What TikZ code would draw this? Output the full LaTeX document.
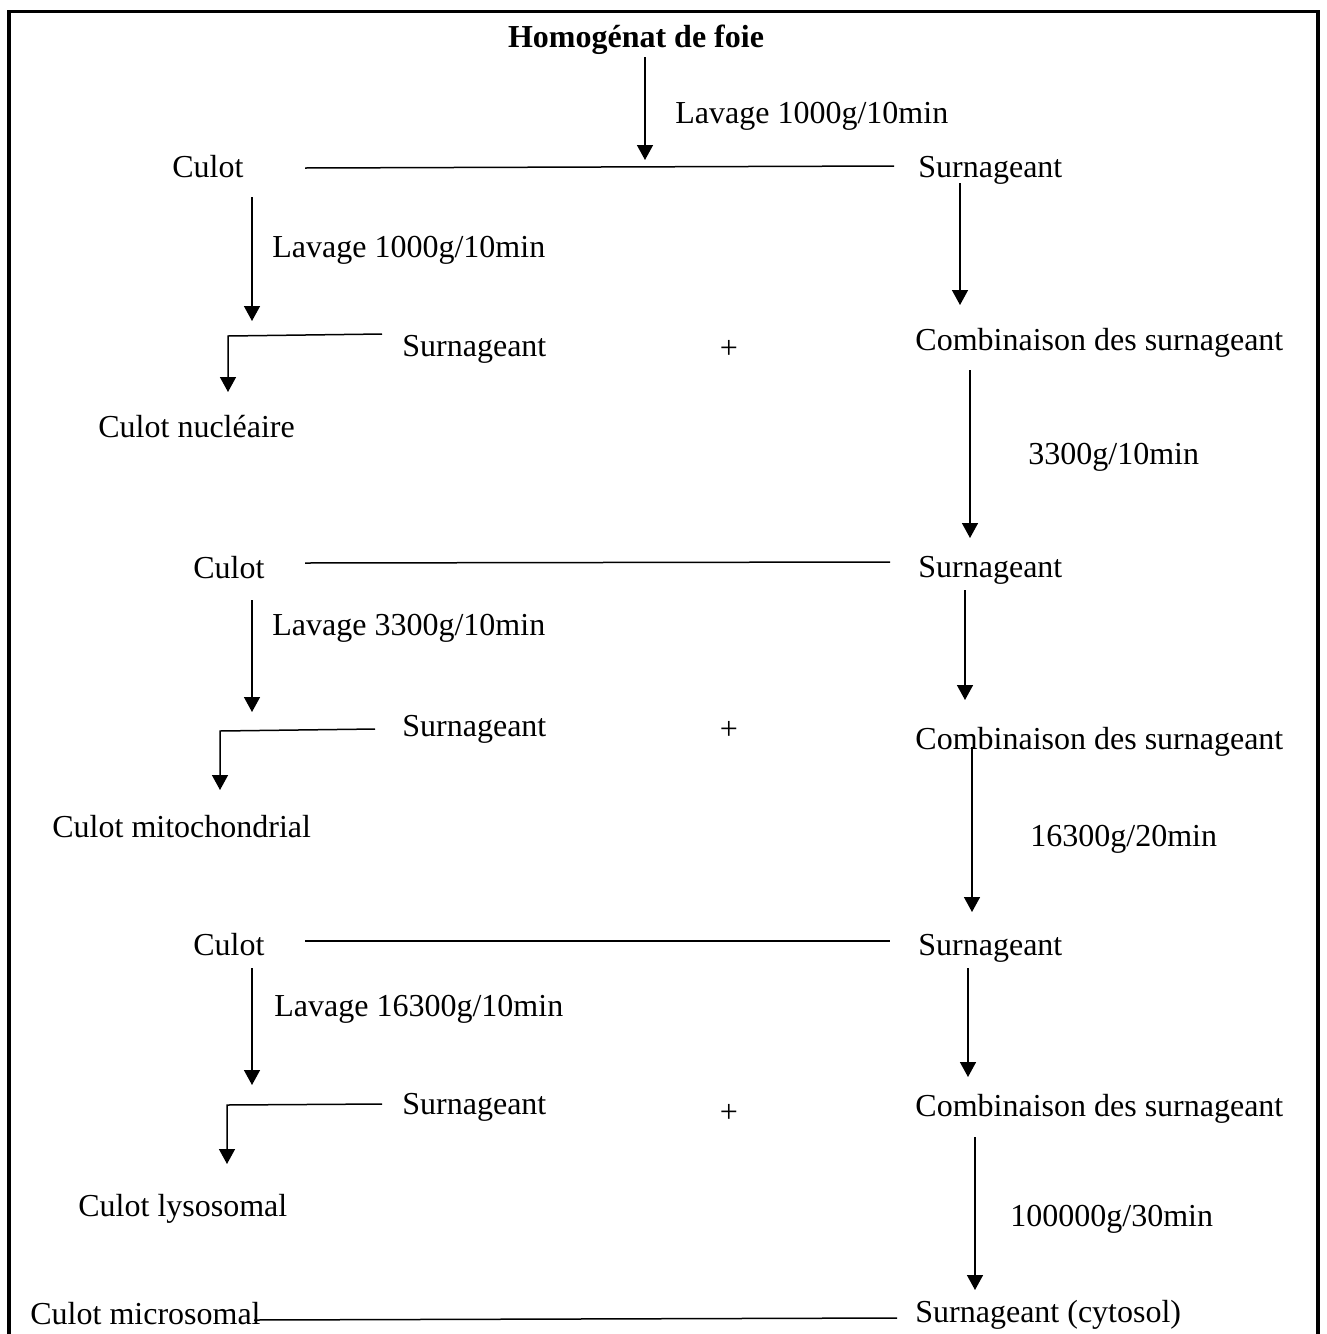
\documentclass[tikz,border=0pt]{standalone}
\usepackage{fontspec}
\setmainfont{Liberation Serif}
\usetikzlibrary{arrows.meta}
\begin{document}
\begin{tikzpicture}[x=0.5pt,y=-0.5pt,
  lbl/.style={anchor=base west,inner sep=0pt,font=\fontsize{16}{19}\selectfont},
  ttl/.style={anchor=base,inner sep=0pt,font=\fontsize{16}{19}\selectfont\bfseries},
  arr/.style={line width=0.75pt,-{Triangle[length=7.5pt,width=8pt]}},
  ln/.style={line width=0.75pt},
  frame/.style={line width=1.75pt}]
\useasboundingbox (0,0) rectangle (1327,1334);
\draw[frame] (9,1340) -- (9,11.5) -- (1318,11.5) -- (1318,1340);
% texts
\node[ttl] (hom) at (636,47) {Homogénat de foie};
\node[lbl] (lav1) at (675,123) {Lavage 1000g/10min};
\node[lbl] (cul1) at (172,177) {Culot};
\node[lbl] (sur1) at (918,177) {Surnageant};
\node[lbl] (lav2) at (272,257) {Lavage 1000g/10min};
\node[lbl] (sl1) at (402,356) {Surnageant};
\node[lbl,anchor=base] (p1) at (729,358) {+};
\node[lbl] (com1) at (915,350) {Combinaison des surnageant};
\node[lbl] (nuc) at (98,437) {Culot nucléaire};
\node[lbl] (g1) at (1028,464) {3300g/10min};
\node[lbl] (cul2) at (193,578) {Culot};
\node[lbl] (sur2) at (918,577) {Surnageant};
\node[lbl] (lav3) at (272,635) {Lavage 3300g/10min};
\node[lbl] (sl2) at (402,736) {Surnageant};
\node[lbl,anchor=base] (p2) at (729,739) {+};
\node[lbl] (com2) at (915,749) {Combinaison des surnageant};
\node[lbl] (mit) at (52,837) {Culot mitochondrial};
\node[lbl] (g2) at (1030,846) {16300g/20min};
\node[lbl] (cul3) at (193,955) {Culot};
\node[lbl] (sur3) at (918,955) {Surnageant};
\node[lbl] (lav4) at (274,1016) {Lavage 16300g/10min};
\node[lbl] (sl3) at (402,1114) {Surnageant};
\node[lbl,anchor=base] (p3) at (729,1122) {+};
\node[lbl] (com3) at (915,1116) {Combinaison des surnageant};
\node[lbl] (lys) at (78,1216) {Culot lysosomal};
\node[lbl] (g3) at (1010,1226) {100000g/30min};
\node[lbl] (mic) at (30,1324) {Culot microsomal};
\node[lbl] (cyt) at (915,1322) {Surnageant (cytosol)};
% connector end points
\coordinate (a0s) at (645,57);  \coordinate (a0e) at (645,160);
\coordinate (h1s) at (305,168); \coordinate (h1e) at (894,166);
\coordinate (a1s) at (960,183); \coordinate (a1e) at (960,305);
\coordinate (a2s) at (252,197); \coordinate (a2e) at (252,321);
\coordinate (l1s) at (382,334); \coordinate (l1m) at (228,336); \coordinate (l1e) at (228,392);
\coordinate (a3s) at (970,370); \coordinate (a3e) at (970,538);
\coordinate (h2s) at (305,563); \coordinate (h2e) at (890,562);
\coordinate (a4s) at (252,600); \coordinate (a4e) at (252,712);
\coordinate (a5s) at (965,590); \coordinate (a5e) at (965,700);
\coordinate (l2s) at (375,729); \coordinate (l2m) at (220,731); \coordinate (l2e) at (220,790);
\coordinate (a6s) at (972,747); \coordinate (a6e) at (972,912);
\coordinate (h3s) at (305,941); \coordinate (h3e) at (890,941);
\coordinate (a7s) at (252,968); \coordinate (a7e) at (252,1085);
\coordinate (a8s) at (968,968); \coordinate (a8e) at (968,1077);
\coordinate (l3s) at (382,1104); \coordinate (l3m) at (227,1105); \coordinate (l3e) at (227,1164);
\coordinate (a9s) at (975,1137); \coordinate (a9e) at (975,1290);
\coordinate (h4s) at (254,1320); \coordinate (h4e) at (897,1318);
% connectors
\draw[arr] (a0s) -- (a0e);
\draw[ln] (h1s) -- (h1e);
\draw[arr] (a1s) -- (a1e);
\draw[arr] (a2s) -- (a2e);
\draw[arr] (l1s) -- (l1m) -- (l1e);
\draw[arr] (a3s) -- (a3e);
\draw[ln] (h2s) -- (h2e);
\draw[arr] (a4s) -- (a4e);
\draw[arr] (a5s) -- (a5e);
\draw[arr] (l2s) -- (l2m) -- (l2e);
\draw[arr] (a6s) -- (a6e);
\draw[ln] (h3s) -- (h3e);
\draw[arr] (a7s) -- (a7e);
\draw[arr] (a8s) -- (a8e);
\draw[arr] (l3s) -- (l3m) -- (l3e);
\draw[arr] (a9s) -- (a9e);
\draw[ln] (h4s) -- (h4e);
\end{tikzpicture}
\end{document}
